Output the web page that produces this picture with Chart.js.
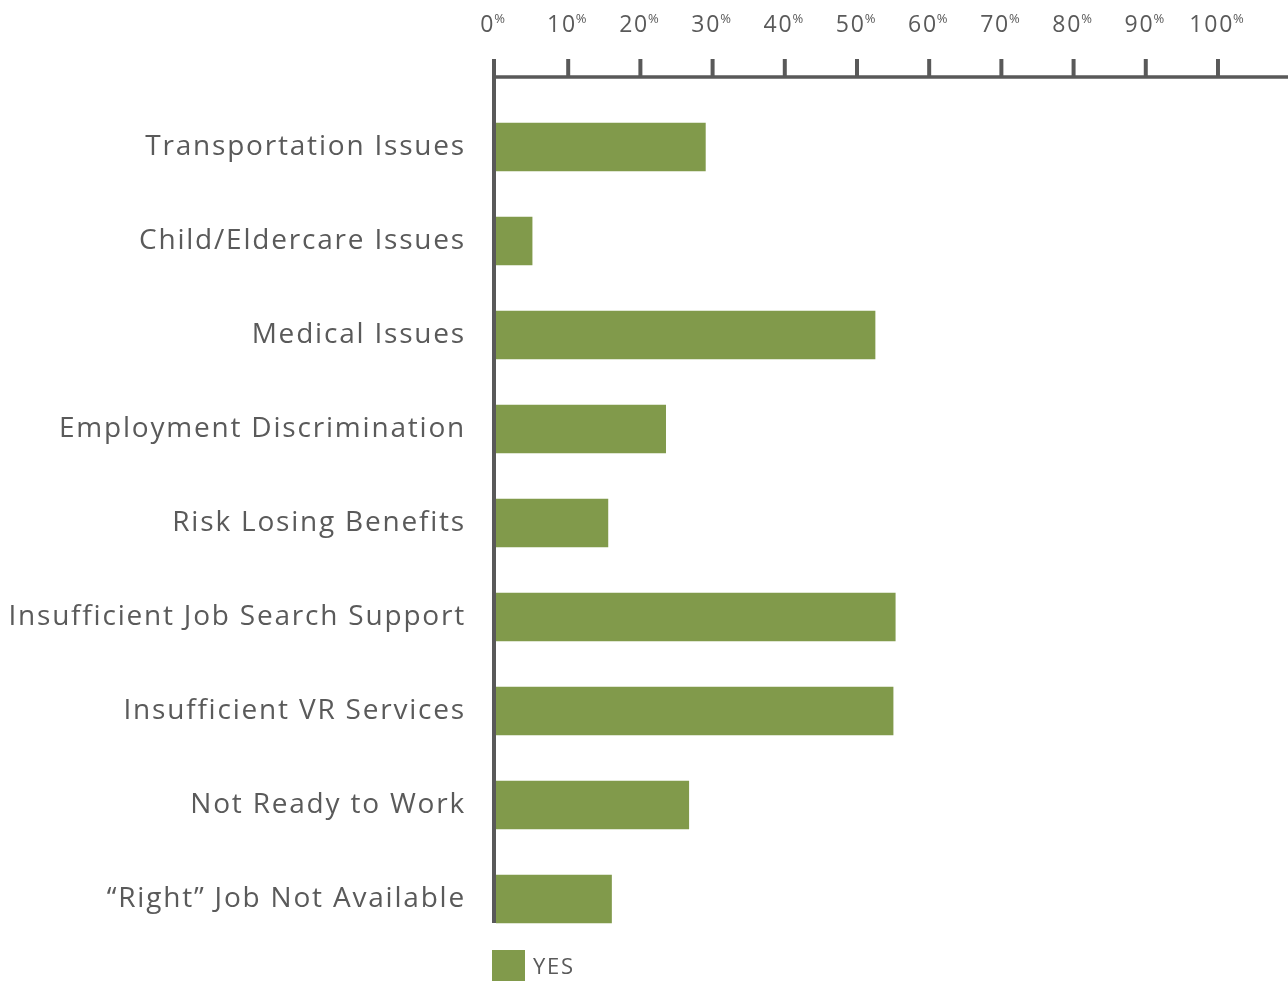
<!DOCTYPE html>
<html>
<head>
<meta charset="utf-8">
<script src="https://cdn.jsdelivr.net/npm/chart.js@4"></script>
<style>
    html, body { margin: 0; padding: 0; background: #fff; }
    #wrap { width: 1288px; height: 981px; }
</style>
</head>
<body>
<div id="wrap"><canvas id="myChart"></canvas></div>
<script>
const categories = [
    "Transportation Issues",
    "Child/Eldercare Issues",
    "Medical Issues",
    "Employment Discrimination",
    "Risk Losing Benefits",
    "Insufficient Job Search Support",
    "Insufficient VR Services",
    "Not Ready to Work",
    "\u201CRight\u201D Job Not Available"
];
const yesValues = [29, 5, 52.5, 23.5, 15.5, 55.3, 55, 26.7, 16];
const tickValues = [0, 10, 20, 30, 40, 50, 60, 70, 80, 90, 100];

const fontFamily = "'Open Sans', sans-serif";
const axisColor = '#595959';
const textColor = '#5a5a5a';
const barColor = '#819a4b';
const spacing = '1.8px';

// wider letters, closer to the original typeface
const spacingPlugin = {
    id: 'spacingPlugin',
    beforeDraw(chart) {
        chart.ctx.letterSpacing = spacing;
    }
};

// top axis, left axis line and legend
const axisPlugin = {
    id: 'axisPlugin',
    afterDraw(chart) {
        const ctx = chart.ctx;
        const x = chart.scales.x;
        const area = chart.chartArea;
        const axisY = 77;
        const x0 = x.getPixelForValue(0) - 2;

        ctx.save();
        ctx.letterSpacing = spacing;
        ctx.strokeStyle = axisColor;
        ctx.lineWidth = 3.5;
        ctx.beginPath();
        ctx.moveTo(x0, axisY);
        ctx.lineTo(chart.width, axisY);
        ctx.stroke();

        tickValues.forEach(function (v) {
            const px = v === 0 ? x0 : x.getPixelForValue(v);
            ctx.lineWidth = 4;
            ctx.beginPath();
            ctx.moveTo(px, axisY);
            ctx.lineTo(px, 59);
            ctx.stroke();

            const num = String(v);
            ctx.font = "23px " + fontFamily;
            const w1 = ctx.measureText(num).width;
            ctx.font = "13px " + fontFamily;
            const w2 = ctx.measureText('%').width;
            const start = px - (w1 + w2) / 2;
            ctx.fillStyle = textColor;
            ctx.textBaseline = 'alphabetic';
            ctx.textAlign = 'left';
            ctx.font = "23px " + fontFamily;
            ctx.fillText(num, start, 32);
            ctx.font = "13px " + fontFamily;
            ctx.fillText('%', start + w1 - 1, 23);
        });

        // vertical axis line
        const meta = chart.getDatasetMeta(0);
        const last = meta.data[meta.data.length - 1];
        ctx.lineWidth = 4;
        ctx.beginPath();
        ctx.moveTo(x0, 59);
        ctx.lineTo(x0, last.y + last.height / 2);
        ctx.stroke();

        // legend
        const ds = chart.data.datasets[0];
        ctx.fillStyle = ds.backgroundColor;
        ctx.fillRect(x0 - 2, area.bottom + 4, 33, 31);
        ctx.fillStyle = textColor;
        ctx.font = "22px " + fontFamily;
        ctx.textBaseline = 'middle';
        ctx.fillText(ds.label, x0 + 39, area.bottom + 22);
        ctx.restore();
    }
};

const data = {
    labels: categories,
    datasets: [{
        label: "YES",
        data: yesValues,
        backgroundColor: barColor,
        barThickness: 48,
        borderWidth: 0
    }]
};

const config = {
    type: 'bar',
    data: data,
    options: {
        indexAxis: 'y',
        responsive: true,
        maintainAspectRatio: false,
        animation: false,
        layout: {
            padding: { top: 100, bottom: 35, right: 0, left: 0 }
        },
        plugins: {
            legend: { display: false },
            tooltip: { enabled: false }
        },
        scales: {
            x: {
                display: false,
                min: 0,
                max: 109.7
            },
            y: {
                afterFit: function (scale) {
                    scale.width = 496;
                    scale.paddingTop = 0;
                    scale.paddingBottom = 0;
                },
                grid: { display: false },
                border: { display: false },
                ticks: {
                    color: textColor,
                    padding: 22,
                    font: { family: fontFamily, size: 28 }
                }
            }
        }
    },
    plugins: [spacingPlugin, axisPlugin]
};

const myChart = new Chart(document.getElementById('myChart'), config);
</script>
</body>
</html>
